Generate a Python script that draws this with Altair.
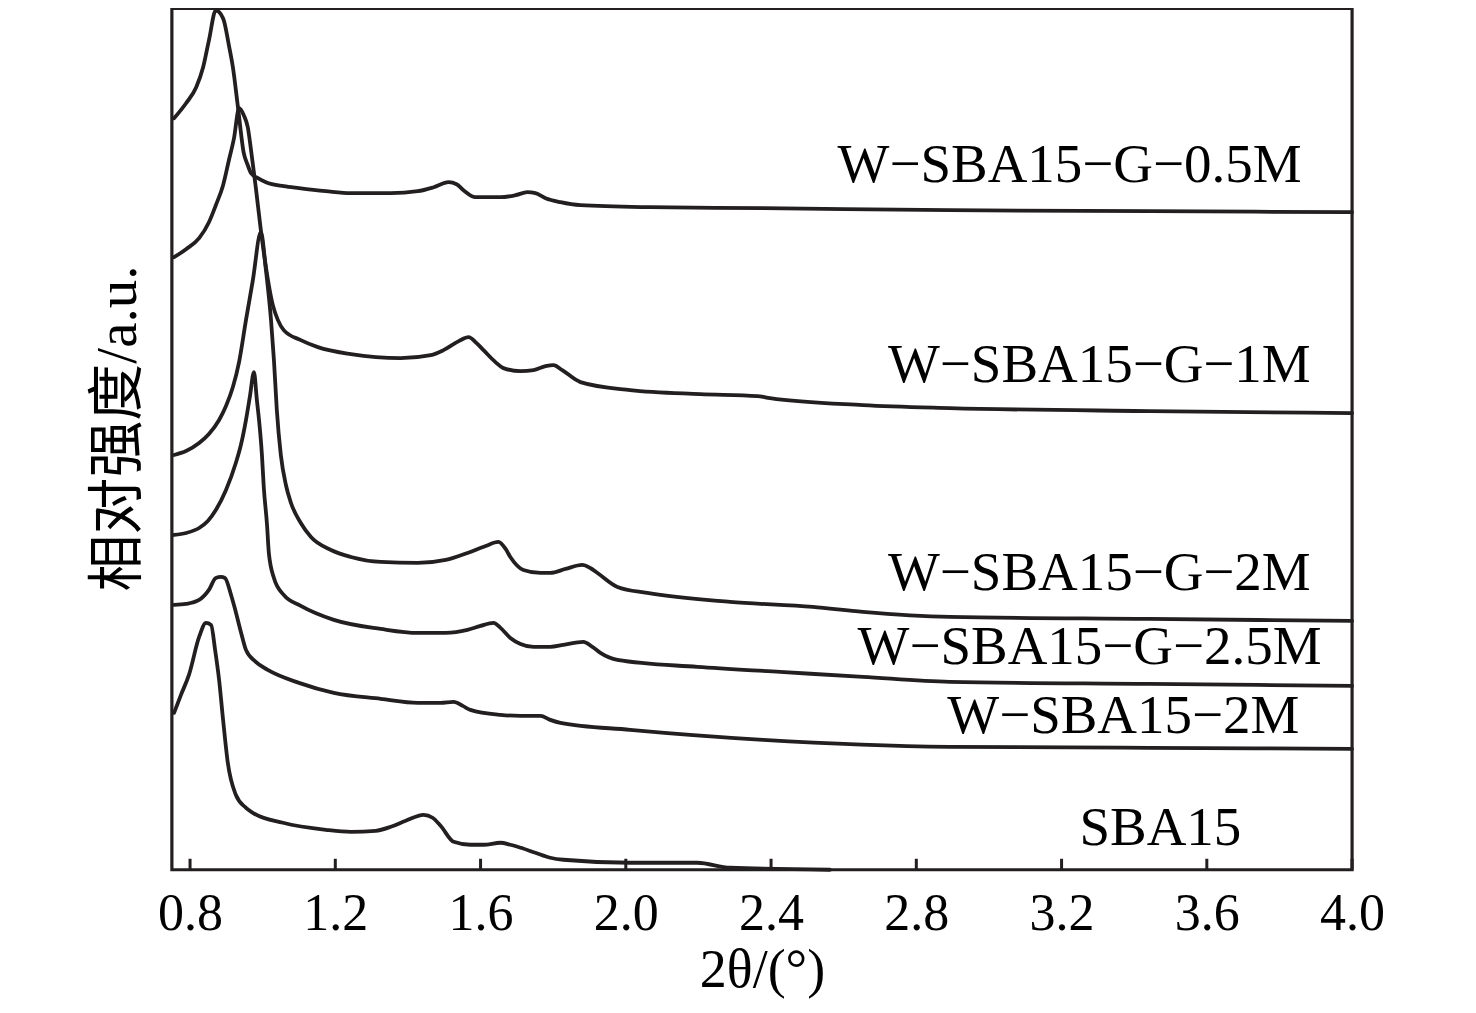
import altair as alt
import pandas as pd

# ---- data (x = 2θ in degrees, y = relative intensity, a.u.) ----
x_05 = [0.756,0.789,0.817,0.836,0.852,0.871,0.885,0.893,0.907,0.918,0.932,0.948,0.959,0.968,0.987,1.009,1.058,1.100,1.174,1.243,1.353,1.427,1.471,1.512,1.534,1.553,1.586,1.655,1.696,1.729,1.751,1.779,1.820,1.875,2.067,2.378,2.892,3.442,4.0]
y_05 = [752,767,783,803,830,860,856,850,825,803,763,717,705,697,692,688,684,682,679,677,677,679,683,688,686,680,673,673,675,678,677,672,668,665,663,662,660,659,658]

x_1 = [0.756,0.789,0.825,0.852,0.871,0.891,0.907,0.921,0.935,0.948,0.959,0.968,0.981,0.995,1.009,1.028,1.042,1.058,1.105,1.152,1.243,1.380,1.463,1.498,1.540,1.567,1.589,1.608,1.641,1.663,1.710,1.746,1.779,1.801,1.825,1.875,2.012,2.205,2.362,2.397,2.653,2.892,3.442,4.0]
y_1 = [613,621,632,648,665,685,710,732,762,755,743,720,683,640,603,565,550,540,530,523,516,512,515,520,529,533,527,520,508,502,499,500,504,505,500,488,480,476,474,472,465,462,459,457]

x_2 = [0.756,0.789,0.825,0.852,0.880,0.899,0.918,0.935,0.954,0.973,0.995,1.009,1.023,1.031,1.039,1.050,1.064,1.078,1.105,1.133,1.188,1.243,1.325,1.427,1.504,1.564,1.614,1.649,1.669,1.682,1.718,1.765,1.792,1.834,1.880,1.902,1.922,1.977,2.059,2.287,2.515,2.653,2.892,3.442,4.0]
y_2 = [415,419,427,436,450,464,483,508,550,590,638,600,550,510,460,415,385,367,347,333,320,313,308,307,310,317,324,328,321,313,300,297,297,301,305,302,297,283,277,268,263,258,253,251,249]

x_25 = [0.756,0.789,0.825,0.849,0.871,0.899,0.926,0.940,0.954,0.965,0.976,0.984,0.990,0.998,1.003,1.012,1.017,1.031,1.058,1.105,1.196,1.325,1.427,1.504,1.564,1.600,1.636,1.655,1.682,1.710,1.746,1.792,1.828,1.883,1.908,1.930,1.977,2.197,2.425,2.653,2.892,3.442,4.0]
y_25 = [335,337,342,349,360,380,407,425,450,474,498,470,450,415,383,345,317,292,275,264,250,241,237,237,240,244,247,242,232,226,223,223,225,228,223,217,210,203,198,193,188,186,184]

x_w2 = [0.756,0.789,0.825,0.852,0.871,0.885,0.896,0.913,0.926,0.940,0.954,0.981,1.014,1.100,1.196,1.325,1.427,1.490,1.526,1.551,1.572,1.655,1.710,1.765,1.792,1.820,2.012,2.378,2.892,3.442,4.0]
y_w2 = [265,266,270,280,292,293,292,275,258,238,220,208,200,187,177,171,167,167,168,164,160,155,154,154,150,147,140,130,123,122,121]

x_sba = [0.756,0.775,0.797,0.825,0.844,0.858,0.869,0.880,0.891,0.904,0.926,0.954,0.973,1.056,1.174,1.243,1.311,1.353,1.394,1.443,1.468,1.490,1.526,1.572,1.608,1.655,1.682,1.702,1.751,1.792,1.828,2.012,2.197,2.287,2.562]
y_sba = [157,175,195,233,247,245,220,190,150,107,75,62,57,47,40,38,39,43,49,55,52,44,28,25,25,27,25,23,17,12,10,7,7,2,0]

series_names = ["W−SBA15−G−0.5M", "W−SBA15−G−1M", "W−SBA15−G−2M",
                "W−SBA15−G−2.5M", "W−SBA15−2M", "SBA15"]
series_x = [x_05, x_1, x_2, x_25, x_w2, x_sba]
series_y = [y_05, y_1, y_2, y_25, y_w2, y_sba]

# label anchor positions (data coordinates)
label_x = [3.222, 3.304, 3.304, 3.277, 3.370, 3.472]
label_y = [705, 505, 297, 223, 154, 42]

tick_values = [0.8, 1.2, 1.6, 2.0, 2.4, 2.8, 3.2, 3.6, 4.0]

rows = []
for name, xs, ys in zip(series_names, series_x, series_y):
    for a, b in zip(xs, ys):
        rows.append({"series": name, "x": a, "y": b})
df = pd.DataFrame(rows)
labels_df = pd.DataFrame({"label": series_names, "x": label_x, "y": label_y})
ticks_df = pd.DataFrame({"t": tick_values})

FONT = "Liberation Serif, Times New Roman, Noto Sans CJK SC"
INK = "#231f20"
W, H = 1181, 862

xscale = alt.Scale(domain=[0.75, 4.0], nice=False, zero=False)
yscale = alt.Scale(domain=[0, 862], nice=False, zero=False)

lines = alt.Chart(df).mark_line(
    color=INK, strokeWidth=3.8, interpolate="monotone", strokeCap="round", strokeJoin="round"
).encode(
    x=alt.X("x:Q", scale=xscale,
            axis=alt.Axis(values=tick_values, format=".1f", title="2θ/(°)",
                          domain=False, ticks=False, tickSize=0, grid=False,
                          labelFont=FONT, labelFontSize=52, labelColor="black",
                          labelPadding=19, labelFlush=False,
                          titleFont=FONT, titleFontSize=54, titleFontWeight="normal",
                          titleColor="black", titlePadding=4)),
    y=alt.Y("y:Q", scale=yscale,
            axis=alt.Axis(title="相对强度/a.u.", labels=False, ticks=False, domain=False,
                          grid=False, titleFont=FONT, titleFontSize=57,
                          titleFontWeight="normal", titleColor="black",
                          titlePadding=24, titleY=420)),
    detail="series:N",
)

tick_rules = alt.Chart(ticks_df).mark_rule(color=INK, strokeWidth=3).encode(
    x=alt.X("t:Q", scale=xscale),
    y=alt.value(H - 11),
    y2=alt.value(H),
)

texts = alt.Chart(labels_df).mark_text(
    font=FONT, fontSize=55, color="black", align="center", baseline="middle"
).encode(
    x=alt.X("x:Q", scale=xscale),
    y=alt.Y("y:Q", scale=yscale),
    text="label:N",
)

chart = alt.layer(lines, tick_rules, texts).properties(
    width=W, height=H,
    autosize=alt.AutoSizeParams(type="none"),
    padding={"left": 164, "top": 0, "right": 116, "bottom": 135},
    background="white",
).configure_view(
    stroke=INK, strokeWidth=3.2
)

chart.save("out.html", embed_options={"renderer": "svg", "actions": False})
